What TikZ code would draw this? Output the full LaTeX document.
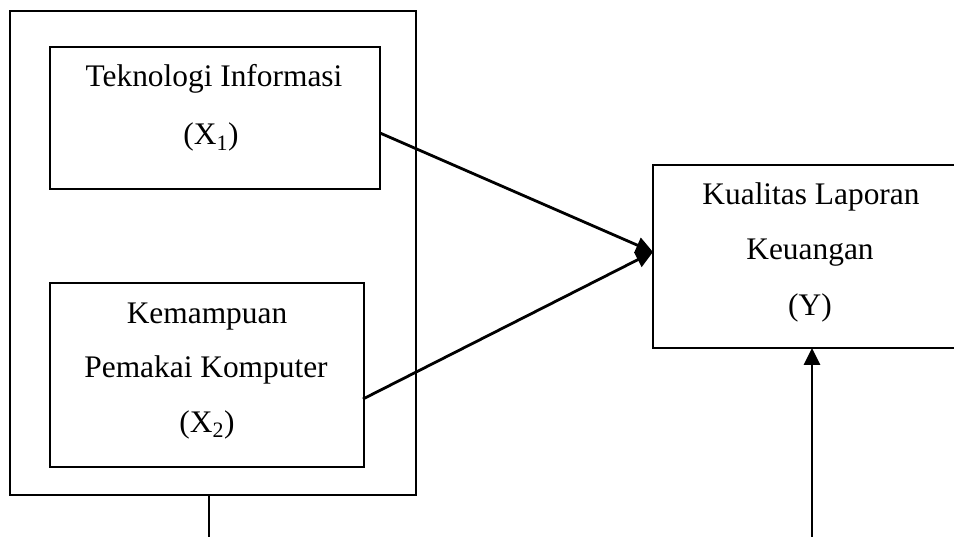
\documentclass[tikz,border=0pt]{standalone}
\usepackage{fontspec}
\setmainfont{Liberation Serif}
\usetikzlibrary{arrows.meta,calc}

\tikzset{
  frame/.style={draw=black, line width=1.6pt, rectangle, inner sep=0pt, outer sep=0pt},
  label text/.style={anchor=base, inner sep=0pt, font=\fontsize{31.4}{36}\selectfont},
  link/.style={draw=black, line width=2.8pt, -{Triangle[length=17pt,width=16pt]}},
  plain link/.style={draw=black, line width=1.8pt}
}

\begin{document}
\begin{tikzpicture}[x=1pt, y=-1pt]
  \useasboundingbox (0,0) rectangle (954,537);
  \clip (0,0) rectangle (954,537);

  % boxes
  \node[frame, minimum width=406pt, minimum height=484pt] (outer) at (213,253) {};
  \node[frame, minimum width=330pt, minimum height=142pt] (x1) at (215,118) {};
  \node[frame, minimum width=314pt, minimum height=184pt] (x2) at (207,375) {};
  \node[frame, minimum width=316pt, minimum height=183pt] (yy) at (811,256.5) {};

  % box texts
  \node[label text] (x1a) at (214,87)  {Teknologi Informasi};
  \node[label text] (x1b) at (211,145) {(X\textsubscript{1})};
  \node[label text] (x2a) at (207,324) {Kemampuan};
  \node[label text] (x2b) at (206,378) {Pemakai Komputer};
  \node[label text] (x2c) at (207,432) {(X\textsubscript{2})};
  \node[label text] (ya) at (811,205) {Kualitas Laporan};
  \node[label text] (yb) at (810,260) {Keuangan};
  \node[label text] (yc) at (810,316) {(Y)};

  % connectors
  \draw[link] ($(x1.east)+(0,15)$) -- ($(yy.west)+(0,-4.5)$);
  \draw[link] ($(x2.east)+(-1,24)$) -- ($(yy.west)+(0,-4.5)$);

  \coordinate (outerfoot) at (209,545);
  \coordinate (yfoot) at (812,545);
  \draw[plain link] ($(outer.south)+(-4,0)$) -- (outerfoot);
  \draw[link] (yfoot) -- (yy.south -| yfoot);
\end{tikzpicture}
\end{document}
